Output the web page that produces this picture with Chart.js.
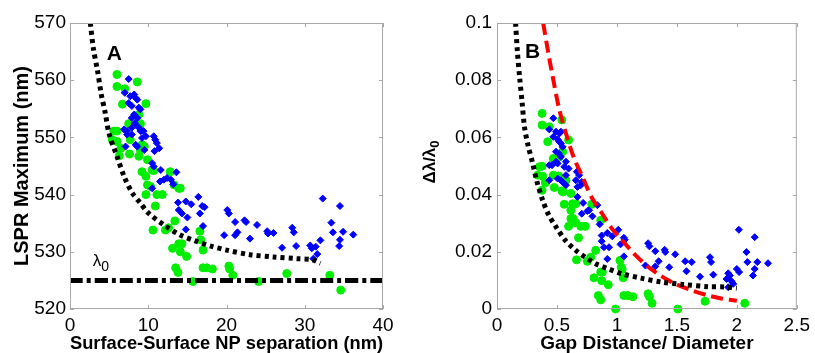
<!DOCTYPE html>
<html>
<head>
<meta charset="utf-8">
<script src="https://cdn.jsdelivr.net/npm/chart.js@4/dist/chart.umd.min.js"></script>
<style>
body { margin: 0; background: #fff; width: 815px; height: 353px; overflow: hidden; position: relative; }
.panel { position: absolute; top: 0; }
</style>
</head>
<body>
<canvas id="chartA" class="panel" style="left:0" width="410" height="353"></canvas>
<canvas id="chartB" class="panel" style="left:410px" width="405" height="353"></canvas>
<script>
// panel A: LSPR maximum vs surface-surface separation
const xTicksA = [0, 10, 20, 30, 40];
const yTicksA = [520, 530, 540, 550, 560, 570];
const lambda0 = 525;

const fitCurveA = [[2.6,570],[3.0,565.4],[3.5,561.8],[4.0,557.5],[4.5,554.3],[5.0,550.6],[6.0,546.7],[7.0,542.9],
  [8.0,540.2],[9.0,538.5],[10,536.8],[12,534.7],[14,533.0],[16,531.9],[18,531.0],[20,530.3],[23,529.5],
  [26,529.1],[29,528.8],[31,528.6],[32,528.0]];

const greenA = [[6.0,561.0],[6.0,558.9],[7.0,558.5],[8.6,559.7],[6.7,555.8],[9.7,555.9],[5.6,551.1],[6.0,551.1],
  [5.4,549.6],[6.0,549.3],[6.3,546.8],[6.5,548.1],[7.5,552.4],[7.7,549.6],[7.6,547.1],[8.8,554.0],[9.0,552.4],
  [9.2,548.7],[9.0,547.8],[9.5,548.4],[8.8,546.7],[9.9,546.1],[9.2,544.0],[9.7,543.2],[10.5,544.3],[10.7,544.2],
  [9.9,541.7],[10.3,541.4],[11.1,540.0],[11.8,540.0],[9.7,540.0],[10.9,538.0],[12.8,544.0],[13.3,541.7],
  [14.1,541.1],[13.9,541.1],[10.6,533.8],[12.2,533.8],[12.6,534.2],[13.4,535.4],[13.1,530.6],[13.9,531.4],
  [14.3,531.4],[14.1,530.0],[14.9,529.2],[13.5,527.2],[13.8,526.4],[15.7,524.8],[16.6,533.6],[16.7,532.1],
  [17.0,530.3],[17.0,527.2],[17.5,527.2],[18.2,527.0],[20.3,527.5],[20.4,527.0],[20.8,525.9],[24.1,524.8],
  [27.7,526.2],[33.2,525.9],[34.6,523.3]];

const blueA = [[7.5,560.2],[7.0,557.8],[7.7,557.2],[8.2,557.5],[8.4,556.9],[8.6,556.6],[7.5,556.0],[7.9,555.5],
  [8.8,555.2],[9.0,554.9],[8.2,554.0],[7.9,553.4],[8.6,553.4],[8.3,552.5],[6.9,551.4],[7.3,551.1],[7.9,551.7],
  [8.4,552.2],[8.8,551.7],[9.0,551.1],[7.3,550.5],[7.9,550.5],[9.4,551.1],[7.1,548.4],[8.4,548.7],[8.6,548.4],
  [9.2,549.9],[9.7,550.2],[9.5,547.8],[10.7,550.2],[10.9,549.6],[11.1,549.0],[10.8,547.6],[11.4,548.1],
  [10.5,545.5],[10.7,544.9],[11.6,544.3],[11.5,542.3],[12.0,542.6],[12.4,542.9],[12.9,542.6],[13.2,541.8],
  [13.6,543.9],[10.5,541.1],[13.8,538.6],[13.9,537.3],[14.3,536.7],[14.8,538.8],[15.0,536.0],[15.5,538.3],
  [14.8,533.9],[16.4,539.6],[16.6,536.7],[16.9,538.0],[17.2,537.8],[17.0,534.5],[19.7,532.9],[20.1,537.3],
  [20.3,536.7],[21.1,535.2],[21.4,533.4],[21.1,532.9],[22.3,535.5],[22.5,535.2],[23.0,532.3],[23.9,534.7],
  [25.2,533.6],[25.3,533.2],[26.0,533.3],[27.1,530.7],[28.4,534.2],[28.6,533.4],[28.9,531.0],[30.7,531.1],
  [30.9,530.6],[31.1,528.8],[31.4,530.9],[31.6,529.6],[32.0,532.0],[32.3,539.3],[33.4,535.1],[33.6,533.4],
  [34.4,531.0],[34.5,538.0],[34.5,532.1],[34.9,533.5],[36.2,533.0]];

// panel B: relative shift vs gap distance / diameter
const xTicksB = [0, 0.5, 1, 1.5, 2, 2.5];
const yTicksB = [0, 0.02, 0.04, 0.06, 0.08, 0.1];

const fitCurveB = [[0.155,0.1],[0.17,0.09],[0.188,0.0813],[0.21,0.072],[0.229,0.0637],[0.26,0.057],[0.298,0.0509],
  [0.33,0.045],[0.381,0.038],[0.43,0.033],[0.492,0.0287],[0.57,0.024],[0.657,0.0205],[0.74,0.018],[0.823,0.0158],
  [0.93,0.014],[1.044,0.0123],[1.2,0.0108],[1.376,0.0094],[1.55,0.0086],[1.76,0.0078],[1.9,0.0077],[2.0,0.0073]];

const modelCurveB = [[0.385,0.1],[0.43,0.089],[0.464,0.0813],[0.52,0.0696],[0.575,0.0614],[0.64,0.053],[0.713,0.0462],
  [0.79,0.039],[0.878,0.0333],[0.96,0.028],[1.044,0.024],[1.15,0.019],[1.265,0.0146],[1.37,0.0115],[1.486,0.0088],
  [1.62,0.0066],[1.762,0.0047],[1.88,0.0036],[2.0,0.0029]];

const greenB = [[0.376,0.0684],[0.376,0.0643],[0.436,0.0637],[0.541,0.0661],[0.423,0.0585],[0.597,0.0591],
  [0.354,0.0497],[0.376,0.0499],[0.340,0.0468],[0.381,0.0464],[0.376,0.0415],[0.403,0.0441],[0.47,0.0526],
  [0.52,0.0532],[0.47,0.0468],[0.478,0.0425],[0.547,0.055],[0.541,0.0413],[0.552,0.0409],[0.575,0.045],
  [0.514,0.0465],[0.616,0.0404],[0.561,0.0366],[0.63,0.0368],[0.657,0.0368],[0.616,0.0345],[0.616,0.0316],
  [0.635,0.0316],[0.597,0.0289],[0.657,0.0301],[0.699,0.0289],[0.735,0.0289],[0.68,0.0249],[0.79,0.0366],
  [0.865,0.031],[0.823,0.0205],[0.663,0.0172],[0.754,0.0167],[0.782,0.0181],[0.865,0.0129],[0.878,0.0129],
  [0.809,0.0109],[0.873,0.0099],[0.928,0.0085],[0.845,0.0047],[0.865,0.0032],[1.025,0.017],[1.036,0.0146],
  [1.044,0.0139],[1.052,0.0109],[1.058,0.0047],[1.091,0.0047],[1.133,0.0043],[0.989,0.0],[1.26,0.0053],
  [1.271,0.0043],[1.293,0.002],[1.508,0.0],[1.735,0.0027],[2.066,0.002]];

const blueB = [[0.47,0.0667],[0.436,0.0628],[0.492,0.062],[0.52,0.0614],[0.533,0.062],[0.47,0.0602],[0.506,0.0593],
  [0.533,0.0579],[0.547,0.0567],[0.52,0.0585],[0.492,0.055],[0.514,0.0544],[0.533,0.0532],[0.492,0.0515],
  [0.436,0.0503],[0.459,0.0503],[0.506,0.0509],[0.575,0.0515],[0.561,0.0497],[0.597,0.0491],[0.436,0.045],
  [0.506,0.0456],[0.533,0.045],[0.547,0.0444],[0.575,0.0468],[0.575,0.0433],[0.666,0.048],[0.685,0.0468],
  [0.657,0.045],[0.707,0.0444],[0.671,0.0427],[0.699,0.0433],[0.671,0.0392],[0.718,0.0371],[0.707,0.0333],
  [0.754,0.0343],[0.768,0.0345],[0.796,0.0324],[0.837,0.0363],[0.856,0.0296],[0.873,0.0257],[0.92,0.0266],
  [0.961,0.0254],[0.873,0.0237],[0.934,0.0216],[0.892,0.0216],[0.92,0.0175],[1.011,0.0277],[1.03,0.0226],
  [1.058,0.0249],[1.066,0.0242],[1.058,0.0184],[1.26,0.023],[1.271,0.0219],[1.238,0.0152],[1.32,0.0202],
  [1.348,0.0167],[1.32,0.0149],[1.398,0.0207],[1.403,0.0199],[1.436,0.0146],[1.486,0.0191],[1.569,0.0167],
  [1.58,0.0132],[1.624,0.0164],[1.693,0.0113],[1.776,0.0181],[1.785,0.0164],[1.804,0.012],[1.914,0.0105],
  [1.928,0.0125],[1.928,0.0076],[1.942,0.0117],[1.956,0.0097],[1.97,0.0088],[2.0,0.014],[2.019,0.0129],
  [2.017,0.0277],[2.08,0.0199],[2.088,0.0164],[2.149,0.0251],[2.149,0.014],[2.135,0.0117],[2.171,0.0164],
  [2.26,0.016]];

const FONT = "'Liberation Sans', Arial, Helvetica, sans-serif";
const toXY = pts => pts.map(p => ({ x: p[0], y: p[1] }));

function lineSet(pts, color, dash, width) {
    return { type: 'line', data: toXY(pts), borderColor: color, borderWidth: width, borderDash: dash,
        pointRadius: 0, fill: false, tension: 0.3, borderCapStyle: 'butt' };
}
function pointSet(pts, color, style, r) {
    return { type: 'scatter', data: toXY(pts), pointStyle: style, pointRadius: r, pointHoverRadius: r,
        backgroundColor: color, borderColor: color, borderWidth: 1, clip: false };
}

// text with a subscript, used for the in-plot labels and the rotated title of panel B
function drawSubText(ctx, text, sub, font, subFont, x, y, centered) {
    ctx.font = font;
    const w = ctx.measureText(text).width;
    ctx.font = subFont;
    const ws = sub ? ctx.measureText(sub).width : 0;
    const x0 = centered ? x - (w + ws) / 2 : x;
    ctx.font = font;
    ctx.fillText(text, x0, y);
    if (sub) {
        ctx.font = subFont;
        ctx.fillText(sub, x0 + w, y + 5);
    }
}

// box round the plot area with inward ticks, plus the text labels inside the plot
const matlabBox = {
    id: 'matlabBox',
    afterDatasetsDraw(chart, args, opts) {
        const { ctx, chartArea: a, scales: { x, y } } = chart;
        ctx.save();
        ctx.strokeStyle = '#a8a8a8';
        ctx.lineWidth = 1;
        ctx.strokeRect(a.left + 0.5, a.top + 0.5, a.right - a.left - 1, a.bottom - a.top - 1);
        ctx.beginPath();
        x.ticks.forEach(t => {
            const px = Math.round(x.getPixelForValue(t.value)) + 0.5;
            ctx.moveTo(px, a.bottom); ctx.lineTo(px, a.bottom - 4);
            ctx.moveTo(px, a.top); ctx.lineTo(px, a.top + 4);
        });
        y.ticks.forEach(t => {
            const py = Math.round(y.getPixelForValue(t.value)) + 0.5;
            ctx.moveTo(a.left, py); ctx.lineTo(a.left + 4, py);
            ctx.moveTo(a.right, py); ctx.lineTo(a.right - 4, py);
        });
        ctx.stroke();
        ctx.fillStyle = '#000';
        ctx.textAlign = 'left';
        ctx.textBaseline = 'alphabetic';
        (opts.labels || []).forEach(l => {
            drawSubText(ctx, l.text, l.sub, l.font, l.subFont, x.getPixelForValue(l.x), y.getPixelForValue(l.y), false);
        });
        if (opts.yTitle) {
            const t = opts.yTitle;
            ctx.translate(t.cx, t.cy);
            ctx.rotate(-Math.PI / 2);
            ctx.textBaseline = 'middle';
            drawSubText(ctx, t.text, t.sub, t.font, t.subFont, 0, 0, true);
        }
        ctx.restore();
    }
};

function makeOptions(cfg) {
    return {
        responsive: false,
        animation: false,
        layout: { padding: { left: 0, right: cfg.padRight, top: 23, bottom: 0 } },
        plugins: { legend: { display: false }, tooltip: { enabled: false },
            matlabBox: { labels: cfg.labels, yTitle: cfg.yTitleText ? null : cfg.customYTitle } },
        scales: {
            x: {
                type: 'linear', min: cfg.xTicks[0], max: cfg.xTicks[cfg.xTicks.length - 1],
                afterBuildTicks: s => { s.ticks = cfg.xTicks.map(v => ({ value: v })); },
                afterFit: s => { s.height = 44; },
                grid: { display: false, drawTicks: false }, border: { display: false },
                ticks: { color: '#000', font: { family: FONT, size: 19 }, padding: 5, maxRotation: 0, autoSkip: false,
                    callback: v => String(v) },
                title: { display: true, text: cfg.xTitle, color: '#000',
                    font: { family: FONT, size: 19, weight: 'bold', lineHeight: 1 }, padding: { top: 0, bottom: 0 } }
            },
            y: {
                type: 'linear', min: cfg.yTicks[0], max: cfg.yTicks[cfg.yTicks.length - 1],
                afterBuildTicks: s => { s.ticks = cfg.yTicks.map(v => ({ value: v })); },
                afterFit: s => { s.width = cfg.yWidth; },
                grid: { display: false, drawTicks: false }, border: { display: false },
                ticks: { color: '#000', font: { family: FONT, size: 19 }, padding: cfg.yPad, autoSkip: false,
                    callback: v => String(v) },
                title: { display: !!cfg.yTitleText, text: cfg.yTitleText || '', color: '#000',
                    font: { family: FONT, size: 20, weight: 'bold', lineHeight: 1 },
                    padding: { top: 12, bottom: 0 } }
            }
        }
    };
}

new Chart(document.getElementById('chartA'), {
    type: 'scatter',
    data: { datasets: [
        lineSet(fitCurveA, '#000', [4, 4], 5),
        lineSet([[0, lambda0], [40, lambda0]], '#000', [13, 4, 4, 4], 5),
        pointSet(blueA, '#0000ff', 'rectRot', 3.5),
        pointSet(greenA, '#00ee00', 'circle', 4)
    ] },
    options: makeOptions({
        xTicks: xTicksA, yTicks: yTicksA, padRight: 27, yWidth: 70, yPad: 4,
        xTitle: 'Surface-Surface NP separation (nm)', yTitleText: 'LSPR Maximum (nm)',
        labels: [
            { text: 'A', x: 4.7, y: 563.6, font: `bold 21px ${FONT}` },
            { text: 'λ', sub: '0', x: 2.9, y: 527.5, font: `17px ${FONT}`, subFont: `14px ${FONT}` }
        ]
    }),
    plugins: [matlabBox]
});

new Chart(document.getElementById('chartB'), {
    type: 'scatter',
    data: { datasets: [
        lineSet(fitCurveB, '#000', [4, 4], 5),
        lineSet(modelCurveB, '#ff0000', [12, 6], 4),
        pointSet(blueB, '#0000ff', 'rectRot', 3.5),
        pointSet(greenB, '#00ee00', 'circle', 4)
    ] },
    options: makeOptions({
        xTicks: xTicksB, yTicks: yTicksB, padRight: 17, yWidth: 87, yPad: 5,
        xTitle: 'Gap Distance/ Diameter',
        customYTitle: { text: 'Δλ/λ', sub: '0', cx: 20, cy: 162,
            font: `bold 17px ${FONT}`, subFont: `bold 13px ${FONT}` },
        labels: [
            { text: 'B', x: 0.233, y: 0.0878, font: `bold 21px ${FONT}` }
        ]
    }),
    plugins: [matlabBox]
});
</script>
</body>
</html>
